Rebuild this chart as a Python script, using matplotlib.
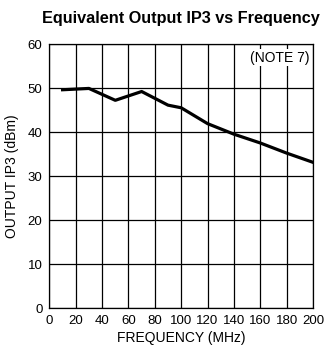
import matplotlib
matplotlib.use("Agg")
import matplotlib.pyplot as plt

# =========================
# DATA
# =========================

freq_mhz = [10, 30, 50, 70, 90, 100, 120, 140, 160, 180, 200]
ip3_dbm = [49.7, 50.0, 47.3, 49.3, 46.2, 45.6, 42.0, 39.6, 37.6, 35.3, 33.2]

x_ticks = list(range(0, 201, 20))
y_ticks = list(range(0, 61, 10))

plt.rcParams["font.family"] = ["Liberation Sans", "DejaVu Sans"]

# =========================
# FIGURE
# =========================

fig = plt.figure(figsize=(3.25, 3.5), dpi=100)
ax = fig.add_axes([0.152, 0.119, 0.811, 0.754])

ax.plot(freq_mhz, ip3_dbm, color="black", linewidth=2.3, zorder=3)

ax.set_xlim(0, 200)
ax.set_ylim(0, 60)
ax.set_xticks(x_ticks)
ax.set_yticks(y_ticks)
ax.grid(True, color="black", linewidth=0.9)
ax.tick_params(length=0, labelsize=9.5, pad=5)

for spine in ax.spines.values():
    spine.set_linewidth(0.9)

ax.set_xlabel("FREQUENCY (MHz)", fontsize=10, labelpad=3)
ax.set_ylabel("OUTPUT IP3 (dBm)", fontsize=10, labelpad=6)

ax.text(197, 58.6, "(NOTE 7)", ha="right", va="top", fontsize=10, zorder=4,
        bbox=dict(facecolor="white", edgecolor="none", pad=1))

fig.text(0.556, 0.948, "Equivalent Output IP3 vs Frequency",
         ha="center", va="center", fontsize=11.7, fontweight="bold")

fig.savefig("out.png", dpi=100)
